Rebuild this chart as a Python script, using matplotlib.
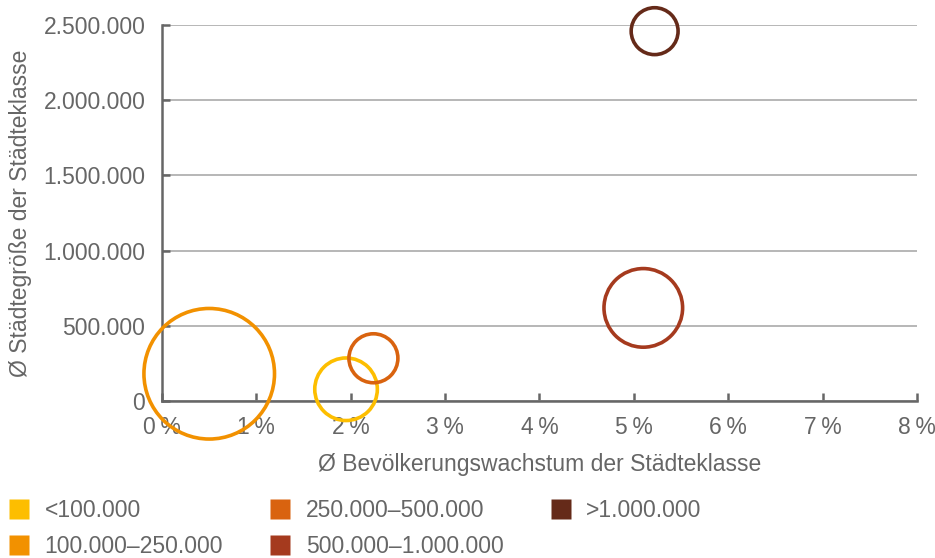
import matplotlib
matplotlib.use('Agg')
import matplotlib.pyplot as plt
from matplotlib.lines import Line2D
from matplotlib.ticker import FuncFormatter

plt.rcParams['font.family'] = ['Liberation Sans', 'DejaVu Sans']

# Städteklassen: Wachstum (%), mittlere Größe, Blasengröße
klassen = ['<100.000', '100.000–250.000', '250.000–500.000', '500.000–1.000.000', '>1.000.000']
wachstum = [1.95, 0.50, 2.24, 5.10, 5.22]
groesse = [78000, 181000, 284000, 619000, 2459000]
blasen = [17.8, 77.5, 10.9, 28.1, 10.0]
farben = ['#FDBE00', '#F29100', '#D9630F', '#A53A1E', '#652A19']

x_ticks = [0, 1, 2, 3, 4, 5, 6, 7, 8]
y_ticks = [0, 500000, 1000000, 1500000, 2000000, 2500000]

grau = '#666666'
fs = 16.5

fig = plt.figure(figsize=(9.35, 5.58), dpi=100)
ax = fig.add_axes([0.1733, 0.2814, 0.8074, 0.6738])

for x, y, b, c in zip(wachstum, groesse, blasen, farben):
    ax.scatter(x, y, s=b * 55 * 0.72 ** 2 * 4, facecolors='none', edgecolors=c,
               linewidths=2.6, clip_on=False, zorder=3)

ax.set_xlim(0, 8)
ax.set_ylim(0, 2500000)
ax.set_xticks(x_ticks)
ax.set_yticks(y_ticks)
ax.xaxis.set_major_formatter(FuncFormatter(lambda v, p: f'{v:.0f}\u2009%'))
ax.yaxis.set_major_formatter(FuncFormatter(lambda v, p: f'{v:,.0f}'.replace(',', '.')))

ax.grid(axis='y', color='#aaaaaa', linewidth=1.2)
ax.set_axisbelow(True)
for side in ['top', 'right']:
    ax.spines[side].set_visible(False)
for side in ['left', 'bottom']:
    ax.spines[side].set_color(grau)
    ax.spines[side].set_linewidth(1.8)

ax.tick_params(direction='in', length=6, width=1.8, color=grau, labelcolor=grau, labelsize=fs)
ax.tick_params(axis='x', pad=11)
ax.tick_params(axis='y', pad=12)

ax.set_xlabel('Ø Bevölkerungswachstum der Städteklasse', fontsize=fs, color=grau, labelpad=10)
ax.set_ylabel('Ø Städtegröße der Städteklasse', fontsize=fs, color=grau, labelpad=8)

handles = [Line2D([], [], marker='s', linestyle='none', markersize=14.5,
                  markerfacecolor=c, markeredgecolor='none') for c in farben]
fig.legend(handles, klassen, loc='upper left', bbox_to_anchor=(0.0, 0.122), ncol=3,
           frameon=False, fontsize=fs, labelcolor=grau, handlelength=0.9,
           handletextpad=0.65, columnspacing=2.05, labelspacing=0.55, borderaxespad=0)

plt.savefig('out.png', dpi=100)
